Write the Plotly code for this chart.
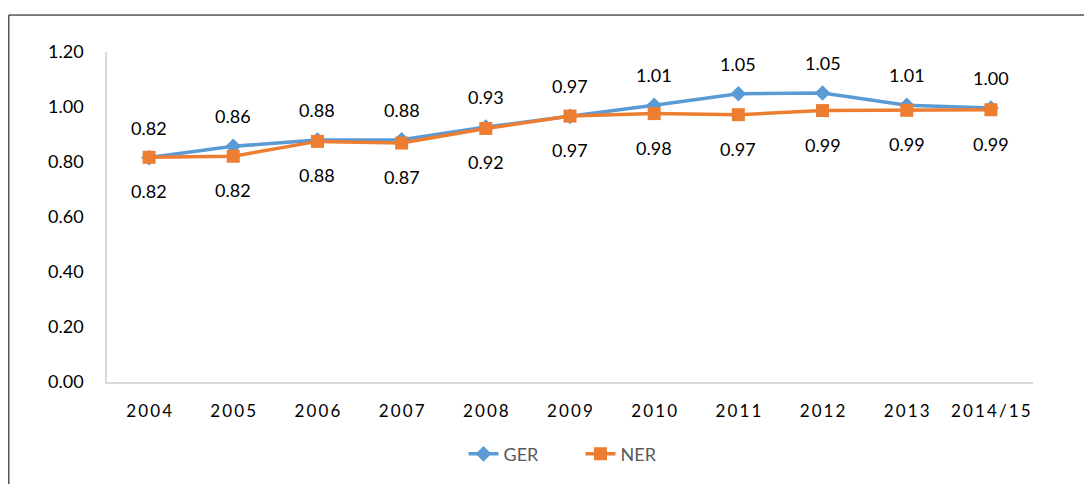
import plotly.graph_objects as go

years = ["2004", "2005", "2006", "2007", "2008", "2009", "2010", "2011", "2012", "2013", "2014/15"]
ger = [0.816, 0.857, 0.880, 0.881, 0.927, 0.966, 1.006, 1.048, 1.051, 1.006, 0.996]
ner = [0.817, 0.821, 0.875, 0.869, 0.922, 0.967, 0.976, 0.972, 0.987, 0.988, 0.990]
yticks = [0.0, 0.2, 0.4, 0.6, 0.8, 1.0, 1.2]

BLUE = "#5B9BD5"
ORANGE = "#ED7D31"
FONT = "Lato, Open Sans, sans-serif"

xs = list(range(len(years)))

fig = go.Figure()
fig.add_trace(go.Scatter(x=xs, y=ger, name="GER", mode="lines+markers",
                         line=dict(color=BLUE, width=3.5),
                         marker=dict(symbol="diamond", size=12, color=BLUE)))
fig.add_trace(go.Scatter(x=xs, y=ner, name="NER", mode="lines+markers",
                         line=dict(color=ORANGE, width=3.5),
                         marker=dict(symbol="square", size=13, color=ORANGE)))

for x, g, n in zip(xs, ger, ner):
    fig.add_annotation(x=x, y=g, text=f"{g:.2f}", showarrow=False, yshift=30,
                       font=dict(size=18, color="#000000", family=FONT))
    fig.add_annotation(x=x, y=n, text=f"{n:.2f}", showarrow=False, yshift=-34,
                       font=dict(size=18, color="#000000", family=FONT))

# outer frame
fig.add_shape(type="rect", xref="paper", yref="paper", x0=-0.106, x1=1.2, y0=-0.5, y1=1.112,
              line=dict(color="#000000", width=1), fillcolor="rgba(0,0,0,0)", layer="below")

ticktext = ["\u2009".join(list(y)) for y in years]

fig.update_layout(
    width=1084, height=476,
    margin=dict(l=99, r=59, t=44, b=101),
    paper_bgcolor="white", plot_bgcolor="white",
    font=dict(family=FONT, color="#000000", size=16),
    showlegend=True,
    legend=dict(orientation="h", x=0.385, xanchor="left", y=-0.215, yanchor="middle",
                font=dict(size=18, color="#595959", family=FONT),
                entrywidth=72, entrywidthmode="pixels"),
    xaxis=dict(range=[-0.5, len(years) - 0.5], tickvals=xs, ticktext=ticktext, showgrid=False,
               zeroline=False, showline=True, linecolor="#D9D9D9", linewidth=1.5, ticks="",
               tickfont=dict(size=17, color="#000000"), ticklabelstandoff=13),
    yaxis=dict(range=[0, 1.2], tickvals=yticks, ticktext=[f"{v:.2f}" for v in yticks],
               showgrid=False, zeroline=False, showline=True, linecolor="#D9D9D9",
               linewidth=1.5, ticks="", tickfont=dict(size=18, color="#000000"),
               ticklabelstandoff=18),
)

fig.write_html("out.html")
